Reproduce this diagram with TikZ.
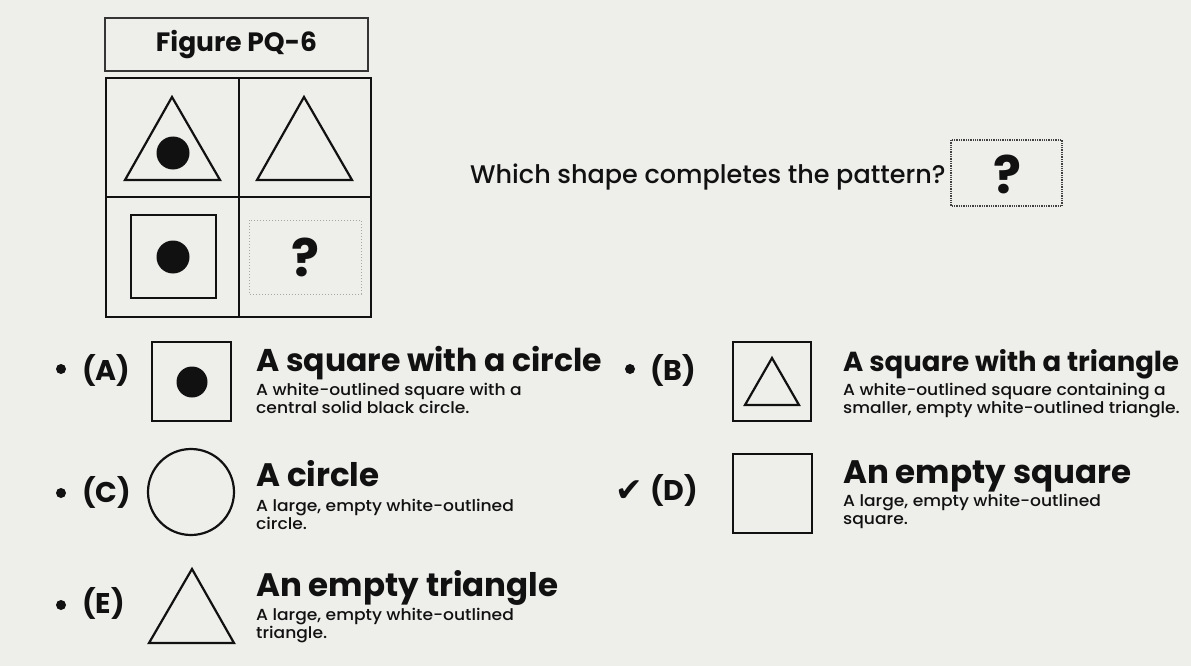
\documentclass[tikz,border=0pt]{standalone}
\usepackage{fontspec}
\setmainfont{Poppins}
\newfontfamily\medfont{Poppins Medium}
\newfontfamily\dscfont{Poppins Medium}[FakeStretch=1.07]
\newfontfamily\symfont{DejaVu Sans}
\definecolor{bg}{HTML}{EEEEEB}
\definecolor{ink}{HTML}{111111}
\tikzset{
  shp/.style={draw=ink, line width=2.2pt},
  dot/.style={fill=ink, draw=none},
  lbl/.style={anchor=base west, inner sep=0, text=ink, font=\fontsize{28.5}{30}\selectfont\bfseries},
  ttl/.style={anchor=base west, inner sep=0, text=ink, font=\fontsize{32.5}{34}\selectfont\bfseries},
  dsc/.style={anchor=base west, inner sep=0, text=ink, font=\fontsize{16}{17}\selectfont\dscfont},
  qm/.style={inner sep=0, text=ink, font=\fontsize{52}{56}\selectfont\bfseries}
}
\begin{document}
\begin{tikzpicture}[x=1pt,y=-1pt, line join=miter]
\useasboundingbox (0,0) rectangle (1191,666);
\fill[bg] (0,0) rectangle (1191,666);

% title box
\node[draw=ink!85, line width=1.3pt, minimum width=263pt, minimum height=53pt, inner sep=0,
      font=\fontsize{26.5}{28}\selectfont\bfseries, text=ink] (title) at (236.5,44.5) {Figure PQ-6};

% grid
\draw[draw=ink, line width=2pt] (106,78) rectangle (371,317);
\draw[draw=ink, line width=2pt] (239,78) -- (239,317) (106,197) -- (371,197);
% cell TL
\draw[shp] (172,97) -- (220,180) -- (125,180) -- cycle;
\fill[dot] (173,153) circle (16.5);
% cell TR
\draw[shp] (304,97) -- (352,180) -- (257,180) -- cycle;
% cell BL
\draw[shp] (131,215) rectangle (216,298);
\fill[dot] (173,257) circle (16.5);
% cell BR
\draw[draw=gray!70, line width=1pt, dotted] (249,220) rectangle (361,294);
\node[qm] (q1) at (305,257) {?};

% question
\node[anchor=base west, inner sep=0, text=ink, font=\fontsize{25.5}{28}\selectfont\medfont] (quest) at (470,183) {Which shape completes the pattern?};
\draw[draw=ink!80, line width=1.3pt, densely dotted] (951,140) rectangle (1062,206);
\node[qm] (q2) at (1007,174) {?};

% option A
\fill[dot] (61,369) circle (5);
\node[lbl] (la) at (82,380) {(A)};
\draw[shp] (152,342) rectangle (231,421);
\fill[dot] (192,382) circle (15.5);
\node[ttl, font=\fontsize{31.5}{34}\selectfont\bfseries] (ta) at (256,371) {A square with a circle};
\node[dsc] (da1) at (256,395) {A white-outlined square with a};
\node[dsc] (da2) at (256,413) {central solid black circle.};

% option B
\fill[dot] (630,369) circle (5);
\node[lbl] (lb) at (650,380) {(B)};
\draw[shp] (733,342) rectangle (811,421);
\draw[shp] (772,358) -- (799,405) -- (745,405) -- cycle;
\node[ttl, font=\fontsize{27.5}{30}\selectfont\bfseries] (tb) at (843,371) {A square with a triangle};
\node[dsc] (db1) at (843,395) {A white-outlined square containing a};
\node[dsc] (db2) at (843,413) {smaller, empty white-outlined triangle.};

% option C
\fill[dot] (61,493) circle (5);
\node[lbl] (lc) at (82,502) {(C)};
\draw[shp] (191,492) circle (43);
\node[ttl] (tc) at (256,486) {A circle};
\node[dsc] (dc1) at (256,511) {A large, empty white-outlined};
\node[dsc] (dc2) at (256,529) {circle.};

% option D
\node[anchor=base west, inner sep=0, text=ink, font=\fontsize{33}{36}\selectfont\symfont] (ck) at (615,501) {✔};
\node[lbl] (ld) at (650,500) {(D)};
\draw[shp] (733,454) rectangle (812,533);
\node[ttl] (td) at (843,483) {An empty square};
\node[dsc] (dd1) at (843,506) {A large, empty white-outlined};
\node[dsc] (dd2) at (843,524) {square.};

% option E
\fill[dot] (61,605) circle (5);
\node[lbl] (le) at (82,613) {(E)};
\draw[shp] (192,569) -- (234,643) -- (149,643) -- cycle;
\node[ttl] (te) at (256,596) {An empty triangle};
\node[dsc] (de1) at (256,620) {A large, empty white-outlined};
\node[dsc] (de2) at (256,638) {triangle.};
\end{tikzpicture}
\end{document}
